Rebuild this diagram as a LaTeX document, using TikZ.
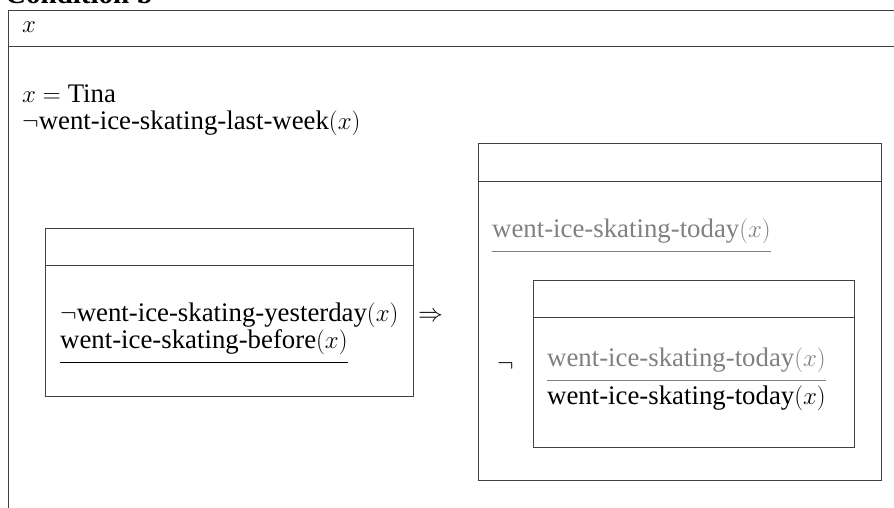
\documentclass[tikz,border=0pt]{standalone}
\usepackage{fontspec}
\setmainfont{Liberation Serif}
\tikzset{
  frame/.style={draw=black!75, line width=0.9pt},
  txt/.style={anchor=base west, inner sep=0pt, font=\fontsize{26.8}{27}\selectfont},
  gray txt/.style={txt, text=black!50},
  boxnode/.style={draw=black!75, line width=0.9pt, anchor=north west, inner sep=0pt}
}
\begin{document}
\begin{tikzpicture}[x=1pt,y=-1pt]
\useasboundingbox (0,0) rectangle (894,508);
% title (cut off)
\node[txt, font=\fontsize{29}{34}\selectfont\bfseries] (title) at (5,4) {Condition b};
% outer box
\node[boxnode, minimum width=900pt, minimum height=520pt] (outer) at (8,10) {};
\draw[frame] (8,46) -- (900,46);
\node[txt] (ux) at (22,33) {$x$};
\node[txt, align=left] (conds) at (22,130) {$x = \mbox{Tina}$\\$\neg$went-ice-skating-last-week$(x)$};
% left box
\node[boxnode, minimum width=368pt, minimum height=168pt] (lbox) at (45,228) {};
\draw[frame] (45,265) -- (413,265);
\node[txt, align=left] (lant) at (60,348) {$\neg$went-ice-skating-yesterday$(x)$\\went-ice-skating-before$(x)$};
\node[txt] (l2w) at (60,348) {\phantom{went-ice-skating-before$(x)$}};
\draw[line width=0.9pt] ([yshift=-8pt]l2w.south west) -- ([yshift=-8pt]l2w.south east);
\node[txt] (impl) at (418,321) {$\Rightarrow$};
% right box
\node[boxnode, minimum width=403pt, minimum height=337pt] (rbox) at (478,143) {};
\draw[frame] (478,181) -- (881,181);
\node[gray txt] (r1) at (492,237) {went-ice-skating-today$(x)$};
\draw[line width=0.9pt, black!50] ([yshift=-8pt]r1.south west) -- ([yshift=-8pt]r1.south east);
\node[txt] (neg) at (497,371) {$\neg$};
% inner box
\node[boxnode, minimum width=321pt, minimum height=167pt] (ibox) at (533,280) {};
\draw[frame] (533,317) -- (854,317);
\node[gray txt] (i1) at (547,366) {went-ice-skating-today$(x)$};
\draw[line width=0.9pt, black!50] ([yshift=-8pt]i1.south west) -- ([yshift=-8pt]i1.south east);
\node[txt] (i2) at (547,404) {went-ice-skating-today$(x)$};
\end{tikzpicture}
\end{document}
